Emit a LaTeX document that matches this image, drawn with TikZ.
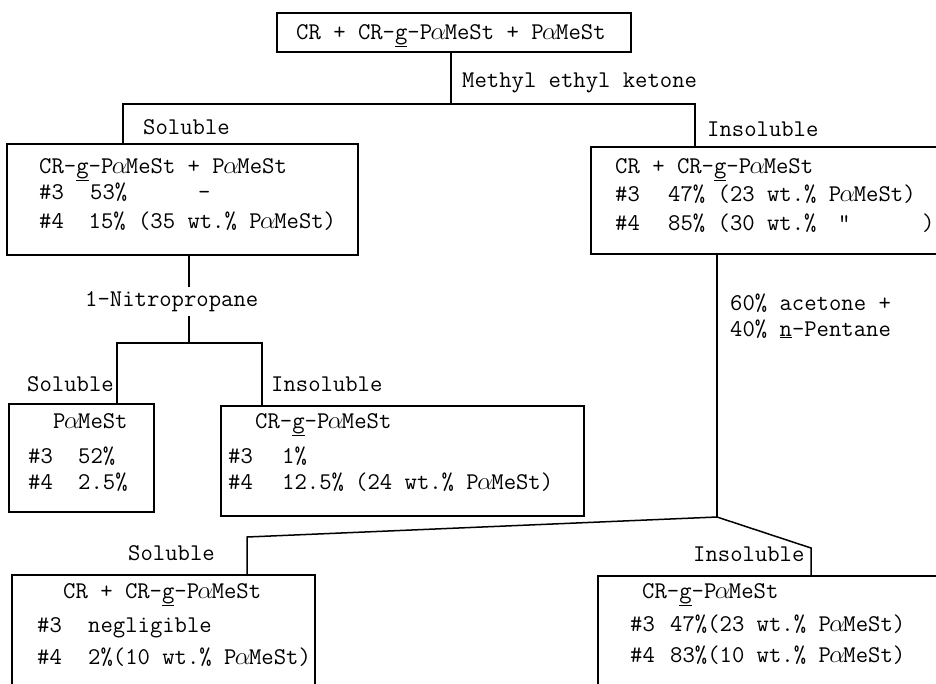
\documentclass[tikz,border=0pt]{standalone}
\usepackage{fontspec}
\newcommand\al{\makebox[0.525em]{$\alpha$}}
\begin{document}
\begin{tikzpicture}[x=1pt,y=-1pt,
  box/.style={draw,line width=1.5pt,rectangle,inner sep=0pt,outer sep=0pt,anchor=north west},
  txt/.style={inner sep=0pt,anchor=base west,font=\ttfamily\fontsize{24}{28}\selectfont},
  conn/.style={line width=1.5pt}]
\useasboundingbox (0,0) rectangle (936,683);
\clip (0,0) rectangle (936,683);
\fill[white] (0,0) rectangle (936,683);
% boxes
\node[box,minimum width=354pt,minimum height=39pt] (top) at (277,13) {};
\node[box,minimum width=351pt,minimum height=111pt] (lb) at (7,144) {};
\node[box,minimum width=380pt,minimum height=107pt] (rb) at (591,147) {};
\node[box,minimum width=145pt,minimum height=108pt] (sb) at (9,404) {};
\node[box,minimum width=363pt,minimum height=110pt] (mb) at (221,406) {};
\node[box,minimum width=303pt,minimum height=130pt] (blb) at (12,575) {};
\node[box,minimum width=370pt,minimum height=130pt] (brb) at (598,576) {};
% texts
\node[txt] (t0) at (296,39) {CR + CR-\underline{g}-P\al MeSt + P\al MeSt};
\node[txt] (mek) at (462,87) {Methyl ethyl ketone};
\node[txt] (sol1) at (143,134) {Soluble};
\node[txt] (ins1) at (707,136) {Insoluble};
\node[txt] (l1) at (39,173) {CR-\underline{g}-P\al MeSt + P\al MeSt};
\node[txt] (l2a) at (39,199) {\#3};
\node[txt] (l2b) at (90,199) {53\%};
\node[txt] (l2c) at (198,199) {-};
\node[txt] (l3) at (39,228) {\#4~~15\% (35 wt.\% P\al MeSt)};
\node[txt] (r1) at (615,173) {CR + CR-\underline{g}-P\al MeSt};
\node[txt] (r2a) at (615,201) {\#3};
\node[txt] (r2b) at (668,201) {47\% (23 wt.\% P\al MeSt)};
\node[txt] (r3a) at (615,230) {\#4};
\node[txt] (r3b) at (668,230) {85\% (30 wt.\%};
\node[txt] (r3c) at (838,230) {"};
\node[txt] (r3d) at (922,230) {)};
\node[txt,inner ysep=4pt] (nitro) at (85,306) {1-Nitropropane};
\node[txt] (sol2) at (27,391) {Soluble};
\node[txt] (ins2) at (271,391) {Insoluble};
\node[txt] (s1) at (53,428) {P\al MeSt};
\node[txt] (s2a) at (28,463) {\#3};
\node[txt] (s2b) at (78,463) {52\%};
\node[txt] (s3a) at (28,489) {\#4};
\node[txt] (s3b) at (78,489) {2.5\%};
\node[txt] (m1) at (255,428) {CR-\underline{g}-P\al MeSt};
\node[txt] (m2a) at (228,463) {\#3};
\node[txt] (m2b) at (282,463) {1\%};
\node[txt] (m3a) at (228,489) {\#4};
\node[txt] (m3b) at (282,489) {12.5\%};
\node[txt] (m3c) at (355,489) {(24 wt.\% P\al MeSt)};
\node[txt] (ac1) at (730,310) {60\% acetone +};
\node[txt] (ac2) at (730,336) {40\% \underline{n}-Pentane};
\node[txt] (sol3) at (128,560) {Soluble};
\node[txt] (ins3) at (693,561) {Insoluble};
\node[txt] (b1) at (63,598) {CR + CR-\underline{g}-P\al MeSt};
\node[txt] (b2a) at (37,632) {\#3};
\node[txt] (b2b) at (88,632) {negligible};
\node[txt] (b3a) at (37,664) {\#4};
\node[txt] (b3b) at (88,664) {2\%(10 wt.\% P\al MeSt)};
\node[txt] (c1) at (642,598) {CR-\underline{g}-P\al MeSt};
\node[txt] (c2a) at (630,631) {\#3};
\node[txt] (c2b) at (670,631) {47\%(23 wt.\% P\al MeSt)};
\node[txt] (c3a) at (630,662) {\#4};
\node[txt] (c3b) at (670,662) {83\%(10 wt.\% P\al MeSt)};
% junctions
\coordinate (j1) at (451,104);
\coordinate (ja) at (123,104);
\coordinate (jb) at (695,104);
\coordinate (j2) at (189,343);
\coordinate (jc) at (117,343);
\coordinate (jd) at (262,343);
\coordinate (J) at (717,517);
\coordinate (je) at (247,537);
\coordinate (jf) at (811,548);
% connectors
\draw[conn] (top.south -| j1) -- (j1);
\draw[conn] (lb.north -| ja) -- (ja) -- (jb) -- (rb.north -| jb);
\draw[conn] (lb.south -| j2) -- (j2 |- nitro.north);
\draw[conn] (j2 |- nitro.south) -- (j2);
\draw[conn] (sb.north -| jc) -- (jc) -- (jd) -- (mb.north -| jd);
\draw[conn] (rb.south -| J) -- (J);
\draw[conn] (blb.north -| je) -- (je) -- (J) -- (jf) -- (brb.north -| jf);
\end{tikzpicture}
\end{document}
